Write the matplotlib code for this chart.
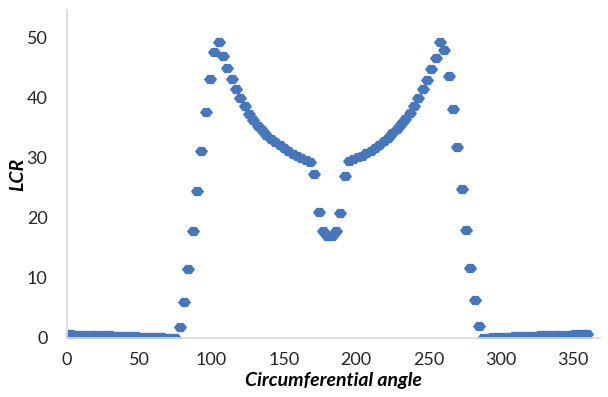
import matplotlib
matplotlib.use("Agg")
import matplotlib.pyplot as plt
from matplotlib.path import Path

# angles sampled every 3 degrees around the circumference
angle = list(range(0, 361, 3))

# LCR per angle, 10 values per row (0-27, 30-57, ...)
lcr = [
    0.62, 0.60, 0.58, 0.56, 0.54, 0.52, 0.50, 0.48, 0.46, 0.44,
    0.42, 0.40, 0.38, 0.35, 0.32, 0.30, 0.27, 0.24, 0.21, 0.18,
    0.15, 0.12, 0.09, 0.06, 0.04, 0.02, 1.8, 6.0, 11.5, 17.7,
    24.4, 31.1, 37.5, 43.1, 47.6, 49.1, 46.8, 44.8, 43.0, 41.4,
    39.9, 38.6, 37.3, 36.2, 35.3, 34.5, 33.8, 33.1, 32.5, 32.0,
    31.5, 31.0, 30.6, 30.2, 29.9, 29.6, 29.3, 27.3, 21.0, 17.7,
    16.9, 16.9, 17.7, 20.8, 26.9, 29.4, 29.7, 30.0, 30.3, 30.7,
    31.1, 31.6, 32.1, 32.7, 33.3, 34.0, 34.7, 35.5, 36.4, 37.4,
    38.6, 39.9, 41.3, 42.9, 44.7, 46.6, 49.1, 47.8, 43.5, 38.0,
    31.7, 24.8, 17.9, 11.7, 6.3, 2.0, 0.05, 0.08, 0.11, 0.14,
    0.17, 0.20, 0.23, 0.26, 0.29, 0.32, 0.35, 0.38, 0.41, 0.44,
    0.46, 0.48, 0.50, 0.52, 0.54, 0.56, 0.58, 0.59, 0.60, 0.61,
    0.62,
]

x_ticks = [0, 50, 100, 150, 200, 250, 300, 350]
y_ticks = [0, 10, 20, 30, 40, 50]

plt.rcParams['font.family'] = ['Lato', 'DejaVu Sans']

# flat diamond marker, Excel style
flat_diamond = Path([(-1, 0), (-0.45, 0.7), (0.45, 0.7), (1, 0),
                     (0.45, -0.7), (-0.45, -0.7), (-1, 0)],
                    [Path.MOVETO] + [Path.LINETO] * 5 + [Path.CLOSEPOLY])

fig = plt.figure(figsize=(6.08, 3.97), dpi=100)
ax = fig.add_axes([67 / 608, 59 / 397, 533 / 608, 328 / 397])

ax.plot(angle, lcr, linestyle='none', marker=flat_diamond, markersize=9.5,
        color='#4676BC', markeredgewidth=0)

ax.set_xlim(0, 368.7)
ax.set_ylim(0, 54.5)
ax.set_xticks(x_ticks)
ax.set_yticks(y_ticks)
ax.tick_params(length=0, labelsize=13, colors='#262626')
ax.tick_params(axis='x', pad=10)
ax.tick_params(axis='y', pad=14)

for side in ['top', 'right']:
    ax.spines[side].set_visible(False)
for side in ['left', 'bottom']:
    ax.spines[side].set_color('#D9D9D9')
    ax.spines[side].set_linewidth(1.2)

ax.set_xlabel('Circumferential angle', fontsize=14, fontweight='bold',
              fontstyle='italic', labelpad=3)
ax.set_ylabel('LCR', fontsize=14, fontweight='bold', fontstyle='italic',
              labelpad=0)
ax.set_clip_on(False)

fig.savefig('out.png', dpi=100)
